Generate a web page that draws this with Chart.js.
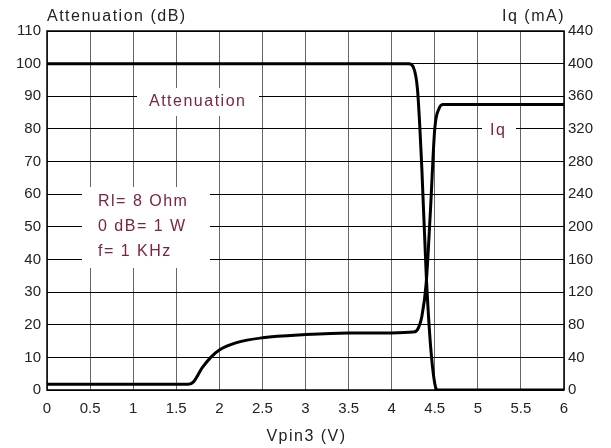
<!DOCTYPE html>
<html>
<head>
<meta charset="utf-8">
<script src="https://cdn.jsdelivr.net/npm/chart.js@4.4.1/dist/chart.umd.min.js"></script>
<style>
  html,body{margin:0;padding:0;background:#fff;}
  #wrap{width:611px;height:448px;}
</style>
</head>
<body>
<div id="wrap"><canvas id="chart"></canvas></div>
<script>
// data
const vpinAtt = [0, 4.2, 4.25, 4.3, 4.35, 4.4, 4.45, 4.5, 4.53, 6];
const attenuation = [100, 100, 99, 92, 68, 36, 14, 2, 0, 0];
const vpinIq = [0, 1.64, 1.7, 1.8, 1.9, 2.0, 2.2, 2.5, 3.0, 3.5, 4.0, 4.25, 4.3, 4.35, 4.4, 4.45, 4.5, 4.55, 4.6, 6];
const iq = [7, 7, 10, 27, 40, 49, 58, 64, 68, 70, 70, 71, 74, 90, 130, 220, 320, 345, 350, 350];
const xTicks = [0, 0.5, 1, 1.5, 2, 2.5, 3, 3.5, 4, 4.5, 5, 5.5, 6];
const leftTicks = [0, 10, 20, 30, 40, 50, 60, 70, 80, 90, 100, 110];
const rightTicks = [0, 40, 80, 120, 160, 200, 240, 280, 320, 360, 400, 440];

const note = "#7a2345";
const font = "'Liberation Sans', Arial, sans-serif";

function pts(xs, ys){ return xs.map((x,i)=>({x:x,y:ys[i]})); }

// white boxed labels on top of the grid
const labels = {
  id: "labels",
  beforeDatasetsDraw(chart){
    const c = chart.ctx;
    c.save();
    c.fillStyle = "#fff";
    c.fillRect(137, 88, 122, 28);
    c.fillRect(482, 118, 34, 28);
    c.fillRect(82, 187, 128, 81);
    c.fillStyle = note;
    c.font = "16px " + font;
    c.letterSpacing = "1.5px";
    c.textBaseline = "middle";
    c.fillText("Attenuation", 149, 102);
    c.fillText("Iq", 490, 131);
    c.fillText("Rl= 8 Ohm", 98, 202);
    c.fillText("0 dB= 1 W", 98, 227);
    c.fillText("f= 1 KHz", 98, 252);
    c.restore();
  },
  afterDraw(chart){
    const c = chart.ctx, a = chart.chartArea;
    c.save();
    c.fillStyle = "#222";
    c.font = "16px " + font;
    c.letterSpacing = "1.5px";
    c.textBaseline = "middle";
    c.textAlign = "left";
    c.fillText("Attenuation (dB)", a.left, 17);
    c.textAlign = "right";
    c.fillText("Iq (mA)", a.right + 1, 17);
    c.textAlign = "center";
    c.fillText("Vpin3 (V)", (a.left + a.right) / 2 + 1, 437);
    c.strokeStyle = "#000";
    c.lineWidth = 1.5;
    c.strokeRect(a.left, a.top, a.right - a.left, a.bottom - a.top);
    c.restore();
  }
};

const ctx = document.getElementById("chart").getContext("2d");
const config = new Chart(ctx, {
  type: "scatter",
  data: {
    datasets: [{
      label: "Attenuation",
      data: pts(vpinAtt, attenuation),
      showLine: true,
      borderColor: "#000",
      borderWidth: 3,
      pointRadius: 0,
      cubicInterpolationMode: "monotone",
      yAxisID: "y"
    },
    {
      label: "Iq",
      data: pts(vpinIq, iq),
      showLine: true,
      borderColor: "#000",
      borderWidth: 3,
      pointRadius: 0,
      cubicInterpolationMode: "monotone",
      yAxisID: "y1"
    }]
  },
  options: {
    responsive: true,
    maintainAspectRatio: false,
    animation: false,
    layout: {padding: {top: 31, left: 0, right: 0, bottom: 0}},
    plugins: {legend: {display: false}, tooltip: {enabled: false}},
    scales: {
      x: {
        type: "linear", min: 0, max: 6,
        afterBuildTicks: s => { s.ticks = xTicks.map(v => ({value: v})); },
        afterFit: s => { s.height = 58; },
        grid: {color: "#666", lineWidth: 1, drawTicks: false},
        border: {display: false},
        ticks: {color: "#222", font: {family: font, size: 15}, padding: 10,
                callback: v => String(v), maxRotation: 0}
      },
      y: {
        position: "left", min: 0, max: 110,
        afterBuildTicks: s => { s.ticks = leftTicks.map(v => ({value: v})); },
        afterFit: s => { s.width = 47; },
        grid: {color: "#000", lineWidth: 1, drawTicks: false},
        border: {display: false},
        ticks: {color: "#222", font: {family: font, size: 15}, padding: 6}
      },
      y1: {
        position: "right", min: 0, max: 440,
        afterBuildTicks: s => { s.ticks = rightTicks.map(v => ({value: v})); },
        afterFit: s => { s.width = 47; },
        grid: {display: false, drawTicks: false},
        border: {display: false},
        ticks: {color: "#222", font: {family: font, size: 15}, padding: 4}
      }
    }
  },
  plugins: [labels]
});
</script>
</body>
</html>
